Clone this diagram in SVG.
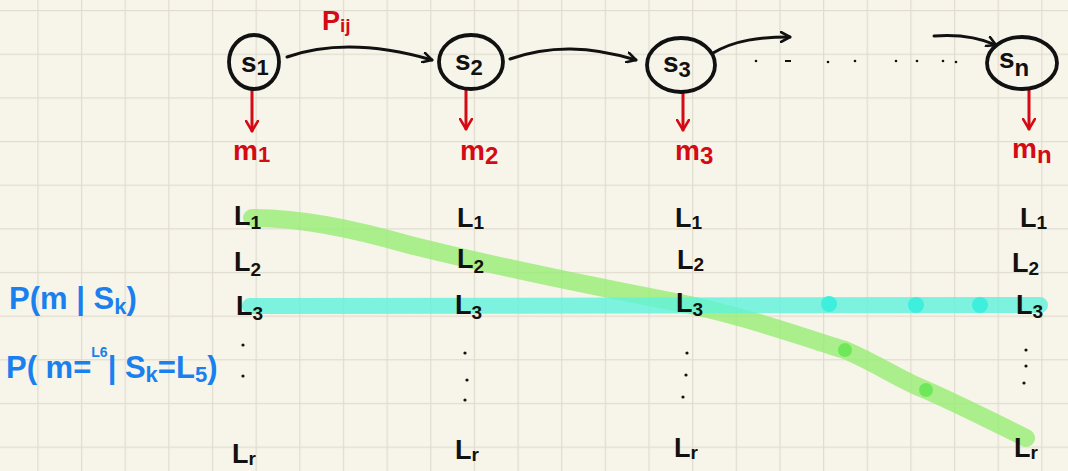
<svg xmlns="http://www.w3.org/2000/svg" width="1068" height="471" viewBox="0 0 1068 471">
<defs>
<style>
.node ellipse{fill:none;stroke:#111;stroke-width:3.8}
.lbl{font-family:"Liberation Sans",Arial,sans-serif;fill:#111;font-weight:bold}
.red{font-family:"Liberation Sans",Arial,sans-serif;fill:#d40a14;font-weight:bold}
.blue{font-family:"Liberation Sans",Arial,sans-serif;fill:#1a80ee;font-weight:bold}
.edge{fill:none;stroke:#111;stroke-width:3;stroke-linecap:round}
.emit{fill:none;stroke:#d40a14;stroke-width:3;stroke-linecap:round}
.dot{fill:#111}
</style>
<pattern id="grid" patternUnits="userSpaceOnUse" x="37.3" y="10" width="43.65" height="43.65">
<path d="M0 0H43.65M0 0V43.65" stroke="#e0ddcf" stroke-width="2.5" fill="none"/>
</pattern>
<marker id="ah" viewBox="0 0 12 12" refX="10" refY="6" markerWidth="12" markerHeight="12" markerUnits="userSpaceOnUse" orient="auto">
<path d="M1 1L10 6L1 11" fill="none" stroke="#111" stroke-width="2.6" stroke-linecap="round" stroke-linejoin="round"/>
</marker>
<marker id="ahr" viewBox="0 0 14 14" refX="11" refY="7" markerWidth="14" markerHeight="14" markerUnits="userSpaceOnUse" orient="auto">
<path d="M1 1L11 7L1 13" fill="none" stroke="#d40a14" stroke-width="2.6" stroke-linecap="round" stroke-linejoin="round"/>
</marker>
</defs>
<rect width="1068" height="471" fill="#f7f5ea"/>
<rect width="1068" height="471" fill="url(#grid)"/>

<g id="highlights">
<path d="M252 218 C300 218 350 228 410 245 C470 260 560 280 690 305 C760 320 810 340 845 350 C880 365 900 380 926 390 C960 405 1000 425 1026 438" fill="none" stroke="#97ec74" stroke-opacity="0.8" stroke-width="18" stroke-linecap="round"/>
<circle cx="845" cy="350" r="7" fill="#6ee85a"/>
<circle cx="926" cy="390" r="7" fill="#6ee85a"/>
<path d="M250 306 L1040 305" fill="none" stroke="#5ef2dc" stroke-opacity="0.8" stroke-width="16" stroke-linecap="round"/>
<circle cx="829" cy="304" r="8" fill="#3eefde"/>
<circle cx="916" cy="305" r="8" fill="#3eefde"/>
<circle cx="980" cy="305" r="8" fill="#3eefde"/>
</g>

<g id="connectors">
<path class="edge" d="M287 57 C330 42 380 45 432 60" marker-end="url(#ah)"/>
<path class="edge" d="M510 59 C550 45 590 46 636 60" marker-end="url(#ah)"/>
<path class="edge" d="M713 53 C735 40 760 37 790 37" marker-end="url(#ah)"/>
<path class="edge" d="M934 36 C960 34 980 38 996 45" marker-end="url(#ah)"/>
<path class="emit" d="M252 89 V131" marker-end="url(#ahr)"/>
<path class="emit" d="M466 90 V129" marker-end="url(#ahr)"/>
<path class="emit" d="M683 93 V130" marker-end="url(#ahr)"/>
<path class="emit" d="M1029 89 V129" marker-end="url(#ahr)"/>
<text class="red" x="322" y="30" font-size="27" font-weight="normal">P<tspan font-size="19" dy="2">ij</tspan></text>
</g>

<g id="ellipsis-dots">
<circle class="dot" cx="756" cy="61" r="1.3"/>
<rect x="785" y="60" width="6" height="2" fill="#111"/>
<circle class="dot" cx="828" cy="62" r="1.3"/>
<circle class="dot" cx="855" cy="61" r="1.3"/>
<circle class="dot" cx="896" cy="61" r="1.3"/>
<circle class="dot" cx="917" cy="61" r="1.3"/>
<circle class="dot" cx="943" cy="61" r="1.3"/>
<circle class="dot" cx="956" cy="62" r="1.3"/>
</g>

<g id="s1" class="node">
<ellipse cx="254" cy="62" rx="25" ry="27"/>
<text class="lbl" x="241" y="72" font-size="28" font-weight="normal">s<tspan font-size="22" dy="3">1</tspan></text>
</g>
<g id="s2" class="node">
<ellipse cx="471" cy="62" rx="32" ry="27"/>
<text class="lbl" x="455" y="70" font-size="28" font-weight="normal">s<tspan font-size="22" dy="5">2</tspan></text>
</g>
<g id="s3" class="node">
<ellipse cx="681" cy="65" rx="34" ry="27"/>
<text class="lbl" x="663" y="72" font-size="28" font-weight="normal">s<tspan font-size="22" dy="5">3</tspan></text>
</g>
<g id="sn" class="node">
<ellipse cx="1022" cy="63" rx="35" ry="26"/>
<text class="lbl" x="999" y="68" font-size="28" font-weight="normal">s<tspan font-size="24" dy="8">n</tspan></text>
</g>

<g id="m1"><text class="red" x="233" y="160" font-size="28" font-weight="normal">m<tspan font-size="22" dy="2">1</tspan></text></g>
<g id="m2"><text class="red" x="460" y="160" font-size="28" font-weight="normal">m<tspan font-size="24" dy="4">2</tspan></text></g>
<g id="m3"><text class="red" x="675" y="160" font-size="28" font-weight="normal">m<tspan font-size="24" dy="4">3</tspan></text></g>
<g id="mn"><text class="red" x="1012" y="158" font-size="28" font-weight="normal">m<tspan font-size="24" dy="5">n</tspan></text></g>

<g id="col1">
<text class="lbl" x="234" y="225" font-size="27">L<tspan font-size="19" dy="4">1</tspan></text>
<text class="lbl" x="234" y="271" font-size="27">L<tspan font-size="19" dy="5">2</tspan></text>
<text class="lbl" x="236" y="315" font-size="27">L<tspan font-size="19" dy="5">3</tspan></text>
<circle class="dot" cx="243" cy="345" r="1.6"/>
<circle class="dot" cx="243" cy="376" r="1.6"/>
<text class="lbl" x="232" y="463" font-size="27">L<tspan font-size="19" dy="2">r</tspan></text>
</g>
<g id="col2">
<text class="lbl" x="457" y="227" font-size="27">L<tspan font-size="19" dy="2">1</tspan></text>
<text class="lbl" x="457" y="268" font-size="27">L<tspan font-size="19" dy="5">2</tspan></text>
<text class="lbl" x="455" y="314" font-size="27">L<tspan font-size="19" dy="5">3</tspan></text>
<circle class="dot" cx="465" cy="353" r="1.6"/>
<circle class="dot" cx="467" cy="380" r="1.6"/>
<circle class="dot" cx="465" cy="400" r="1.6"/>
<text class="lbl" x="455" y="459" font-size="27">L<tspan font-size="19" dy="2">r</tspan></text>
</g>
<g id="col3">
<text class="lbl" x="675" y="227" font-size="27">L<tspan font-size="19" dy="2">1</tspan></text>
<text class="lbl" x="677" y="269" font-size="27">L<tspan font-size="19" dy="2">2</tspan></text>
<text class="lbl" x="676" y="312" font-size="27">L<tspan font-size="19" dy="4">3</tspan></text>
<circle class="dot" cx="687" cy="353" r="1.6"/>
<circle class="dot" cx="686" cy="375" r="1.6"/>
<circle class="dot" cx="683" cy="397" r="1.6"/>
<text class="lbl" x="674" y="457" font-size="27">L<tspan font-size="19" dy="2">r</tspan></text>
</g>
<g id="col4">
<text class="lbl" x="1020" y="227" font-size="27">L<tspan font-size="19" dy="2">1</tspan></text>
<text class="lbl" x="1012" y="272" font-size="27">L<tspan font-size="19" dy="3">2</tspan></text>
<text class="lbl" x="1016" y="314" font-size="27">L<tspan font-size="19" dy="4">3</tspan></text>
<circle class="dot" cx="1026" cy="350" r="1.6"/>
<circle class="dot" cx="1026" cy="366" r="1.6"/>
<circle class="dot" cx="1024" cy="383" r="1.6"/>
<text class="lbl" x="1014" y="457" font-size="27">L<tspan font-size="19" dy="2">r</tspan></text>
</g>

<g id="annotations">
<text class="blue" x="9" y="309" font-size="31" font-weight="normal">P(m | S<tspan font-size="22" dy="5">k</tspan><tspan dy="-5">)</tspan></text>
<text class="blue" x="6" y="378" font-size="31" font-weight="normal">P( m=<tspan font-size="14" dy="-21">L6</tspan><tspan dy="21">| S</tspan><tspan font-size="22" dy="4">k</tspan><tspan dy="-4">=L</tspan><tspan font-size="22" dy="4">5</tspan><tspan dy="-4">)</tspan></text>
</g>
</svg>
